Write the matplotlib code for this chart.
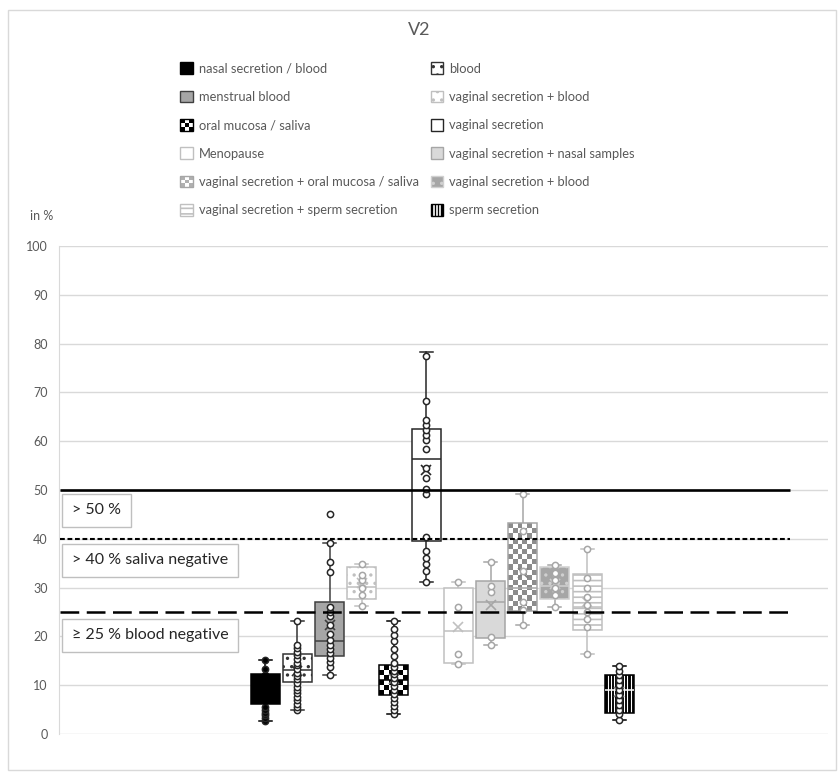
import matplotlib.pyplot as plt
import numpy as np
from matplotlib.patches import Rectangle, Patch
from matplotlib.colors import ListedColormap
from matplotlib.legend_handler import HandlerBase

plt.rcParams['font.family'] = ['Lato', 'DejaVu Sans']
plt.rcParams['hatch.linewidth'] = 1.2

# data (in %)
labels = ['nasal secretion / blood', 'blood', 'menstrual blood',
          'vaginal secretion + blood', 'oral mucosa / saliva', 'vaginal secretion',
          'Menopause', 'vaginal secretion + nasal samples',
          'vaginal secretion + oral mucosa / saliva', 'vaginal secretion + blood',
          'vaginal secretion + sperm secretion', 'sperm secretion']
whis_lo = [2.7, 4.9, 12.1, 26.2, 4.2, 31.2, 14.3, 18.2, 22.3, 26.1, 16.3, 2.9]
q1 = [6.1, 10.7, 16.0, 27.7, 8.0, 39.5, 14.6, 19.7, 25.3, 27.7, 21.4, 4.4]
med = [9.0, 13.1, 19.1, 30.2, 11.0, 56.4, 21.1, 27.1, 29.9, 30.3, 26.0, 9.0]
q3 = [12.3, 16.3, 27.1, 34.3, 14.1, 62.5, 30.0, 31.4, 43.2, 34.3, 32.8, 12.0]
whis_hi = [15.2, 23.2, 39.1, 34.8, 23.2, 78.3, 31.1, 35.3, 49.2, 34.6, 38.0, 14.0]
means = [8.8, 13.0, 22.3, 31.0, 11.2, 54.1, 22.0, 26.4, 33.0, 30.8, 27.0, 8.6]

pts_nasal_blood = [2.7, 3.2, 3.8, 4.4, 5.0, 5.6, 7.0, 8.0, 9.0, 10.0, 11.0, 12.0, 13.3, 15.2]
pts_blood = [4.9, 5.5, 6.2, 7.0, 7.6, 8.3, 9.1, 9.7, 10.4, 11.2, 11.9, 12.5, 13.3,
             14.1, 14.6, 15.4, 16.2, 16.9, 17.6, 18.3, 23.2]
pts_menstrual = [12.1, 13.8, 14.7, 15.6, 16.5, 17.4, 18.3, 19.2, 20.4, 22.3, 24.2,
                 25.1, 26.0, 33.1, 35.3, 39.1, 45.1]
pts_vag_blood = [26.2, 28.5, 30.0, 31.5, 32.5, 34.8]
pts_oral = [4.2, 5.0, 5.8, 6.6, 7.4, 8.2, 9.0, 9.8, 10.6, 11.4, 12.2, 13.0, 13.8,
            14.6, 16.0, 17.5, 19.0, 20.3, 21.6, 23.2]
pts_vag = [31.2, 33.3, 34.8, 36.0, 37.4, 40.4, 49.2, 50.2, 52.5, 54.5, 58.4, 60.2,
           61.2, 62.3, 63.3, 64.3, 68.2, 77.5]
pts_meno = [14.3, 16.3, 26.1, 31.1]
pts_vag_nasal = [18.2, 19.8, 29.2, 30.3, 35.3]
pts_vag_oral = [22.3, 25.5, 27.0, 33.5, 41.5, 49.2]
pts_vag_blood2 = [26.1, 28.5, 30.0, 31.5, 33.0, 34.6]
pts_vag_sperm = [16.3, 22.0, 23.5, 25.0, 26.5, 28.0, 30.0, 32.0, 38.0]
pts_sperm = [2.9, 4.0, 5.0, 6.0, 7.0, 8.0, 9.0, 10.0, 11.0, 12.0, 13.0, 14.0]
points = [pts_nasal_blood, pts_blood, pts_menstrual, pts_vag_blood, pts_oral, pts_vag,
          pts_meno, pts_vag_nasal, pts_vag_oral, pts_vag_blood2, pts_vag_sperm, pts_sperm]

thresholds = [50, 40, 25]
threshold_texts = ['> 50 %', '> 40 % saliva negative', '\u2265 25 % blood negative']
text_y = [45.8, 35.6, 20.2]

# look of each box: (kind, face, edge, hatch, second colour)
styles = [
    ('plain', '#000000', '#000000', None, None),
    ('plain', '#ffffff', '#333333', '..', None),
    ('plain', '#a6a6a6', '#404040', None, None),
    ('plain', '#ffffff', '#c0c0c0', '..', None),
    ('checker', '#000000', '#000000', None, '#ffffff'),
    ('plain', '#ffffff', '#262626', None, None),
    ('plain', '#ffffff', '#c0c0c0', None, None),
    ('plain', '#d9d9d9', '#a6a6a6', None, None),
    ('checker', '#8c8c8c', '#a6a6a6', None, '#ffffff'),
    ('plain', '#a6a6a6', '#d0d0d0', '..', None),
    ('plain', '#ffffff', '#c0c0c0', '---', None),
    ('stripes', '#000000', '#000000', None, '#ffffff'),
]

W, H = 838, 775
fig = plt.figure(figsize=(W / 100, H / 100), dpi=100)
ax = fig.add_axes([59 / W, 41 / H, 769 / W, 488 / H])
xlim = (-5.40, 18.48)
ax.set_xlim(*xlim)
ax.set_ylim(0, 100)
px_x = 769 / (xlim[1] - xlim[0])
px_y = 488 / 100

fig.add_artist(Rectangle((8 / W, 5 / H), 828 / W, 760 / H, transform=fig.transFigure,
                         fill=False, edgecolor='#d9d9d9', lw=1))

pos = np.arange(1, len(labels) + 1)
bw = 0.9
stats = []
for i in range(len(labels)):
    stats.append(dict(med=med[i], q1=q1[i], q3=q3[i], whislo=whis_lo[i],
                      whishi=whis_hi[i], mean=means[i], fliers=[], label=labels[i]))
bp = ax.bxp(stats, positions=pos, widths=bw, capwidths=0.4, patch_artist=True,
            showmeans=True, manage_ticks=False,
            meanprops=dict(marker='x', markersize=7, mew=1.2))

for i, (kind, face, edge, hatch, second) in enumerate(styles):
    box = bp['boxes'][i]
    box.set_edgecolor(edge)
    box.set_linewidth(1.1)
    box.set_zorder(3)
    if kind == 'plain':
        box.set_facecolor(face)
        if hatch:
            box.set_hatch(hatch)
    else:
        box.set_facecolor('none')
        x0, x1 = pos[i] - bw / 2, pos[i] + bw / 2
        if kind == 'checker':
            ncol = max(1, round(bw * px_x / 5))
            nrow = max(1, round((q3[i] - q1[i]) * px_y / 5))
            arr = np.add.outer(np.arange(nrow), np.arange(ncol)) % 2
            ax.imshow(arr, extent=[x0, x1, q1[i], q3[i]], cmap=ListedColormap([face, second]),
                      aspect='auto', interpolation='nearest', origin='lower', zorder=2.5)
        else:
            ax.add_patch(Rectangle((x0, q1[i]), bw, q3[i] - q1[i], facecolor=face,
                                   edgecolor='none', zorder=2.5))
            ax.vlines(np.linspace(x0, x1, 10)[1:-1], q1[i], q3[i], color=second,
                      lw=0.8, zorder=2.6)
    line_col = edge if i != 9 else '#a6a6a6'
    for art in bp['whiskers'][2 * i:2 * i + 2] + bp['caps'][2 * i:2 * i + 2]:
        art.set_color(line_col)
        art.set_linewidth(1.1)
    med_col = edge
    if kind == 'stripes':
        med_col = '#ffffff'
    if i == 9:
        med_col = '#d0d0d0'
    bp['medians'][i].set_color(med_col)
    bp['medians'][i].set_linewidth(1.1)
    bp['medians'][i].set_zorder(3.5)
    mean_col = edge if kind == 'plain' else '#808080'
    if i == 9:
        mean_col = '#d0d0d0'
    bp['means'][i].set_markeredgecolor(mean_col)
    bp['means'][i].set_markerfacecolor(mean_col)
    bp['means'][i].set_zorder(4)
    pt_col = '#262626' if edge in ('#000000', '#333333', '#404040', '#262626') else '#a6a6a6'
    pt_face = 'black' if i == 0 else 'white'
    ax.plot(np.full(len(points[i]), pos[i]), points[i], 'o', ms=4.5, mfc=pt_face,
            mec=pt_col, mew=1.1, zorder=2.9 if i == 0 else 4.5, ls='none')

# threshold lines and their notes
yt = ax.get_yaxis_transform()
ax.plot([0.0013, 0.9506], [thresholds[0]] * 2, transform=yt, color='black', lw=1.9,
        solid_capstyle='butt', zorder=5)
ax.plot([0.0013, 0.9506], [thresholds[1]] * 2, transform=yt, color='black', lw=1.5,
        dashes=(2.3, 1.3), zorder=5)
ax.plot([0.0013, 0.9506], [thresholds[2]] * 2, transform=yt, color='black', lw=1.8,
        dashes=(7.5, 3.0), zorder=5)
for t, y in zip(threshold_texts, text_y):
    ax.text(0.017, y, t, transform=yt, ha='left', va='center', fontsize=11.5,
            color='#262626', zorder=6,
            bbox=dict(boxstyle='square,pad=0.6', fc='white', ec='#bfbfbf', lw=1))

ax.set_yticks(np.arange(0, 101, 10))
ax.set_xticks([])
ax.grid(axis='y', color='#d9d9d9', lw=1)
ax.set_axisbelow(True)
for s in ['top', 'right', 'bottom']:
    ax.spines[s].set_visible(False)
ax.spines['left'].set_color('#d9d9d9')
ax.tick_params(axis='y', length=0, pad=8, labelsize=9, labelcolor='#595959')

fig.text(0.5, 1 - 30 / H, 'V2', ha='center', va='center', fontsize=13, color='#595959')
fig.text(30 / W, 1 - 216 / H, 'in %', ha='left', va='center', fontsize=9, color='#595959')


class PatternHandler(HandlerBase):
    def __init__(self, kind, dark, light, edge):
        super().__init__()
        self.kind, self.dark, self.light, self.edge = kind, dark, light, edge

    def create_artists(self, legend, orig_handle, xdescent, ydescent, width, height,
                       fontsize, trans):
        x0, y0 = -xdescent, -ydescent
        arts = []
        if self.kind == 'checker':
            n = 3
            for a in range(n):
                for b in range(n):
                    c = self.dark if (a + b) % 2 == 0 else self.light
                    arts.append(Rectangle((x0 + a * width / n, y0 + b * height / n),
                                          width / n, height / n, facecolor=c,
                                          edgecolor='none', transform=trans))
        else:
            arts.append(Rectangle((x0, y0), width, height, facecolor=self.dark,
                                  edgecolor='none', transform=trans))
            for a in range(1, 4):
                xx = x0 + a * width / 4
                arts.append(plt.Line2D([xx, xx], [y0, y0 + height], color=self.light,
                                       lw=1.2, transform=trans))
        arts.append(Rectangle((x0, y0), width, height, fill=False, edgecolor=self.edge,
                              lw=1, transform=trans))
        return arts


handles = []
hmap = {}
for i, (kind, face, edge, hatch, second) in enumerate(styles):
    h = Patch(facecolor=face if kind == 'plain' else 'white', edgecolor=edge,
              hatch=hatch, lw=1, label=labels[i])
    if kind == 'checker':
        hmap[h] = PatternHandler('checker', face if i == 4 else '#b0b0b0', second, edge)
    elif kind == 'stripes':
        hmap[h] = PatternHandler('stripes', face, second, edge)
    handles.append(h)

order = [0, 2, 4, 6, 8, 10, 1, 3, 5, 7, 9, 11]
fig.legend([handles[k] for k in order], [labels[k] for k in order], handler_map=hmap,
           loc='upper left', bbox_to_anchor=(174 / W, 1 - 56 / H), ncol=2, frameon=False,
           fontsize=9.25, labelcolor='#595959', handlelength=1.0, handleheight=1.0,
           handletextpad=0.45, columnspacing=0.9, labelspacing=1.26, borderpad=0)

fig.savefig('out.png', dpi=100)
